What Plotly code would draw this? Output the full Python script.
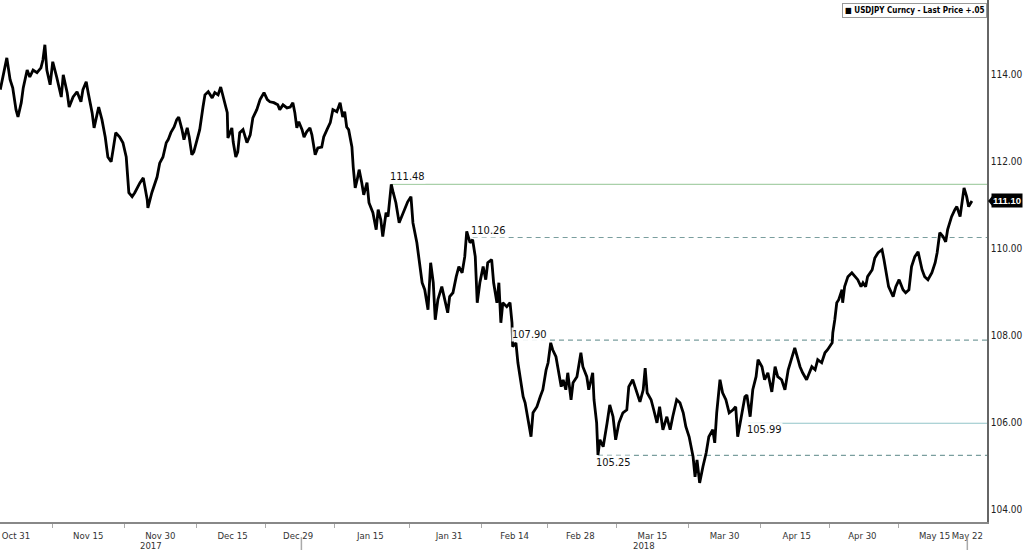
import numpy as np
import plotly.graph_objects as go

# ---------------- data ----------------
# x: trading-day index counted from 2017-10-31 (weekends skipped), y: USDJPY last price
day = [-2.4, -1.7, -1.4, -0.9, -0.5, 0.0, 0.3, 0.8, 1.1, 1.7,
       2.1, 2.6, 3.2, 3.8, 4.1, 4.4, 4.7, 5.2, 5.6, 6.2,
       6.9, 7.2, 7.8, 8.1, 8.7, 9.3, 9.9, 10.2, 10.7, 11.0,
       11.6, 11.9, 12.3, 12.6, 13.1, 13.6, 14.0, 14.5, 14.8, 15.2,
       15.8, 16.3, 16.8, 17.2, 17.7, 18.1, 18.9, 19.4, 20.0, 20.1,
       20.7, 21.2, 21.5, 21.9, 22.4, 22.9, 23.2, 23.6, 24.1, 24.5,
       24.8, 25.3, 25.6, 26.1, 26.4, 26.8, 27.1, 27.6, 28.0, 28.5,
       28.8, 29.3, 29.9, 30.3, 30.8, 31.2, 31.7, 32.2, 32.3, 32.9,
       33.1, 33.5, 33.8, 34.1, 34.6, 35.2, 35.7, 36.1, 36.7, 37.2,
       37.8, 38.3, 38.7, 39.3, 39.9, 40.2, 40.7, 41.3, 41.8, 42.2,
       42.5, 42.8, 43.1, 43.6, 43.9, 44.3, 44.8, 45.1, 45.6, 46.0,
       46.6, 46.9, 47.4, 47.9, 48.3, 48.9, 49.4, 49.8, 50.1, 50.4,
       50.7, 51.2, 51.4, 51.7, 52.0, 52.3, 52.7, 53.0, 53.5, 53.8,
       54.4, 54.9, 55.2, 55.6, 55.9, 56.4, 56.7, 57.2, 57.5, 57.9,
       58.4, 59.0, 59.7, 60.2, 60.5, 61.1, 61.4, 61.9, 62.3, 62.8,
       63.2, 63.6, 63.9, 64.3, 64.9, 65.4, 65.8, 66.1, 66.6, 67.1,
       67.5, 68.0, 68.4, 68.7, 69.2, 69.6, 70.0, 70.3, 70.7, 71.2,
       71.6, 71.9, 72.5, 72.8, 73.3, 73.6, 73.9, 74.2, 74.8, 75.3,
       75.6, 75.7, 76.2, 76.5, 76.8, 77.3, 77.6, 78.0, 78.5, 78.8,
       79.4, 79.9, 80.3, 80.8, 81.1, 81.5, 81.8, 82.3, 82.6, 83.1,
       83.4, 83.8, 84.1, 84.6, 84.9, 85.5, 86.1, 86.4, 87.0, 87.3,
       87.9, 88.1, 88.5, 88.7, 89.0, 89.5, 90.1, 90.5, 91.0, 91.4,
       91.9, 92.5, 93.1, 93.4, 94.0, 94.5, 95.1, 95.6, 95.9, 96.2,
       96.8, 97.2, 97.7, 98.1, 98.6, 99.2, 99.7, 100.1, 100.7, 101.2,
       101.7, 102.1, 102.6, 103.2, 103.5, 103.8, 104.2, 104.7, 105.2, 105.6,
       106.2, 106.5, 106.8, 107.3, 107.7, 108.2, 108.7, 109.3, 109.7, 110.0,
       110.6, 111.1, 111.4, 111.9, 112.3, 112.8, 113.1, 113.7, 114.1, 114.6,
       115.2, 115.7, 116.1, 116.7, 117.2, 117.7, 118.3, 118.7, 119.2, 119.5,
       119.9, 120.5, 121.3, 121.8, 122.2, 122.8, 123.3, 123.7, 124.4, 124.5,
       124.8, 125.1, 125.4, 125.9, 126.0, 126.3, 126.8, 127.4, 127.9, 128.3,
       128.8, 129.1, 129.5, 129.8, 130.5, 130.9, 131.4, 132.0, 132.3, 132.7,
       133.0, 133.7, 134.1, 134.6, 135.2, 135.6, 136.1, 136.5, 137.0, 137.5,
       138.1, 138.5, 139.0, 139.6, 140.1, 140.4, 140.8, 141.3, 141.7, 142.0,
       142.6, 143.1, 143.4, 143.9, 144.3, 144.5, 144.9, 145.2, 145.7]

price = [113.66, 114.18, 114.39, 113.89, 113.70, 113.20, 113.03, 113.36, 113.70, 114.11,
         113.95, 114.11, 114.05, 114.16, 114.34, 114.69, 114.11, 113.77, 114.30, 113.95,
         113.49, 114.00, 113.59, 113.26, 113.49, 113.61, 113.38, 113.66, 113.84, 113.59,
         113.13, 112.78, 113.03, 113.26, 112.97, 112.57, 112.11, 112.00, 112.28, 112.67,
         112.57, 112.44, 112.11, 111.29, 111.20, 111.29, 111.52, 111.63, 111.13, 110.94,
         111.29, 111.52, 111.65, 111.97, 112.11, 112.44, 112.51, 112.67, 112.80, 112.97,
         113.03, 112.74, 112.51, 112.78, 112.57, 112.16, 112.23, 112.51, 112.74, 113.26,
         113.54, 113.61, 113.47, 113.59, 113.54, 113.72, 113.43, 113.13, 112.55, 112.78,
         112.46, 112.11, 112.23, 112.67, 112.74, 112.44, 112.62, 113.01, 113.20, 113.43,
         113.59, 113.43, 113.38, 113.36, 113.31, 113.20, 113.31, 113.24, 113.26, 113.36,
         113.13, 112.78, 112.92, 112.74, 112.57, 112.69, 112.78, 112.62, 112.16, 112.32,
         112.34, 112.57, 112.74, 112.90, 113.20, 113.15, 113.36, 113.03, 113.15, 112.80,
         112.74, 112.34, 111.88, 111.40, 111.59, 111.82, 111.52, 111.24, 111.52, 111.06,
         110.83, 110.44, 110.90, 110.67, 110.28, 110.83, 110.74, 111.48, 111.29, 111.06,
         110.60, 110.83, 111.08, 111.20, 110.60, 110.14, 109.75, 109.22, 109.06, 108.60,
         109.68, 109.22, 108.37, 108.83, 109.13, 108.76, 108.53, 108.90, 108.99, 109.36,
         109.59, 109.45, 109.82, 110.40, 110.14, 110.21, 109.82, 108.76, 109.22, 109.59,
         109.29, 109.68, 109.75, 109.22, 108.76, 109.22, 108.30, 108.76, 108.67, 108.76,
         108.30, 107.75, 107.84, 107.38, 107.06, 106.60, 106.46, 106.14, 105.68, 106.23,
         106.37, 106.60, 106.76, 107.22, 107.38, 107.84, 107.68, 107.52, 107.22, 106.83,
         106.99, 106.76, 107.15, 106.53, 106.92, 107.06, 107.61, 107.29, 107.06, 106.76,
         107.15, 106.53, 106.00, 105.26, 105.61, 105.45, 106.00, 106.41, 106.14, 105.61,
         106.00, 106.23, 106.30, 106.83, 106.99, 106.76, 106.48, 106.76, 107.26, 106.69,
         106.53, 106.30, 106.00, 106.37, 105.84, 106.14, 105.84, 106.14, 106.53, 106.46,
         106.23, 105.91, 105.68, 105.22, 104.76, 105.15, 104.62, 104.99, 105.31, 105.68,
         105.84, 105.54, 106.23, 106.99, 106.69, 106.53, 106.23, 106.30, 106.37, 105.68,
         106.14, 106.60, 106.64, 106.14, 106.76, 107.06, 107.45, 107.29, 106.99, 107.15,
         106.71, 107.29, 107.06, 106.99, 106.76, 107.22, 107.52, 107.72, 107.45, 107.29,
         107.15, 106.99, 107.29, 107.22, 107.45, 107.38, 107.61, 107.68, 107.84, 108.07,
         108.37, 108.76, 108.83, 109.06, 108.76, 109.13, 109.36, 109.45, 109.36, 109.29,
         109.13, 109.22, 109.13, 109.36, 109.52, 109.79, 109.91, 109.98, 109.75, 109.36,
         109.13, 108.90, 109.13, 109.29, 109.06, 108.99, 109.06, 109.59, 109.82, 109.93,
         109.52, 109.36, 109.29, 109.45, 109.68, 109.91, 110.37, 110.28, 110.16, 110.44,
         110.74, 110.90, 110.97, 110.74, 111.13, 111.40, 111.20, 110.97, 111.10]

last_price = 111.10

# x-axis date labels
base_date = "2017-10-31"
tick_dates = ["2017-10-31", "2017-11-15", "2017-11-30", "2017-12-15", "2017-12-29",
              "2018-01-15", "2018-01-31", "2018-02-14", "2018-02-28", "2018-03-15",
              "2018-03-30", "2018-04-15", "2018-04-30", "2018-05-15", "2018-05-22"]
tick_labels = ["Oct 31", "Nov 15", "Nov 30", "Dec 15", "Dec 29", "Jan 15", "Jan 31",
               "Feb 14", "Feb 28", "Mar 15", "Mar 30", "Apr 15", "Apr 30", "May 15", "May 22"]
year_start = "2018-01-01"
years = ["2017", "2018"]

# y-axis ticks
y_ticks = [104, 106, 108, 110, 112, 114]

# horizontal levels: value, starting trading day, style, label placement
levels = [111.48, 110.26, 107.90, 105.99, 105.25]
level_start = [57.2, 69.6, 75.9, 111.6, 88.7]
level_dash = ["solid", "5px,4px", "5px,4px", "solid", "5px,4px"]
level_color = ["#a9d0a9", "#7a9e9e", "#7a9e9e", "#92c4c8", "#7a9e9e"]
level_shift = [8, 7, 6, -6, -7]

# ---------------- derived positions ----------------
tick_pos = [float(np.busday_count(base_date, d)) for d in tick_dates]
minor_pos = [(a + b) / 2 for a, b in zip(tick_pos[:-2], tick_pos[1:-1])]
year_boundary = float(np.busday_count(base_date, year_start)) - 0.5
x_min, x_max = -2.44, 148.0
y_min, y_max = 103.72, 115.72

fig = go.Figure()
fig.add_trace(go.Scatter(
    x=day, y=price, mode="lines",
    line=dict(color="#000000", width=2.8),
    name="USDJPY Curncy - Last Price +.05",
    showlegend=False, hoverinfo="skip"))

shapes = []
annotations = []
for v, s, dsh, col, sh in zip(levels, level_start, level_dash, level_color, level_shift):
    shapes.append(dict(type="line", xref="x", yref="y", x0=s, x1=x_max, y0=v, y1=v,
                       line=dict(color=col, width=1.2, dash=dsh), layer="below"))
    annotations.append(dict(x=s - 0.4, y=v, xref="x", yref="y", text=f"{v:.2f}",
                            showarrow=False, xanchor="left", yanchor="middle", yshift=sh,
                            font=dict(family="DejaVu Sans Condensed", size=11, color="#111"),
                            bgcolor="rgba(255,255,255,0.9)", borderpad=0))

# year separators under the axis
for xv in [year_boundary, tick_pos[-1]]:
    shapes.append(dict(type="line", xref="x", yref="paper", x0=xv, x1=xv, y0=-0.029, y1=-0.055,
                       line=dict(color="#aaaaaa", width=1.5)))

# year labels centered in each year's span
year_centers = [(x_min + year_boundary) / 2, (year_boundary + x_max) / 2]
for yl, xc in zip(years, year_centers):
    annotations.append(dict(x=xc, y=0, xref="x", yref="paper", text=yl, showarrow=False,
                            xanchor="center", yanchor="middle", yshift=-23,
                            font=dict(family="DejaVu Sans Condensed", size=9.5, color="#333")))

# last price tag
annotations.append(dict(x=1, y=last_price, xref="paper", yref="y", text=f"<b>{last_price:.2f}</b>",
                        showarrow=False, xanchor="left", yanchor="middle", xshift=4,
                        font=dict(family="Liberation Sans", size=9.5, color="#ffffff"),
                        bgcolor="#000000", borderpad=1))
shapes.append(dict(type="path", xref="paper", yref="y", xsizemode="pixel", ysizemode="pixel",
                   xanchor=1, yanchor=last_price, path="M1,0 L6,-6 L6,6 Z",
                   fillcolor="#000000", line=dict(width=0)))

# legend box
annotations.append(dict(x=1, y=1, xref="paper", yref="paper",
                        text="<b>\u25A0 USDJPY Curncy - Last Price +.05</b>",
                        showarrow=False, xanchor="right", yanchor="top", yshift=-3,
                        font=dict(family="Liberation Sans Narrow, DejaVu Sans Condensed", size=8, color="#000"),
                        bgcolor="#ffffff", bordercolor="#999999", borderwidth=1, borderpad=2))

fig.update_layout(
    width=1023, height=550,
    margin=dict(l=0, r=36, t=0, b=28),
    paper_bgcolor="#ffffff", plot_bgcolor="#ffffff",
    shapes=shapes, annotations=annotations,
    xaxis=dict(range=[x_min, x_max], tickmode="array", tickvals=tick_pos, ticktext=tick_labels,
               tickangle=0, showgrid=False, zeroline=False, showline=True, linecolor="#888888",
               linewidth=1.5, ticks="outside", ticklen=4, tickcolor="rgba(0,0,0,0)",
               tickfont=dict(family="DejaVu Sans Condensed", size=9.5, color="#333"),
               minor=dict(tickmode="array", tickvals=minor_pos, ticks="outside", ticklen=4,
                          tickcolor="#aaaaaa", showgrid=False)),
    yaxis=dict(range=[y_min, y_max], side="right", tickmode="array", tickvals=y_ticks,
               ticktext=[f"{t:.2f}" for t in y_ticks], showgrid=False, zeroline=False,
               showline=True, linecolor="#666666", linewidth=1.5, ticks="",
               tickfont=dict(family="DejaVu Sans Condensed", size=10, color="#222")),
)

fig.write_html("out.html", config={"displayModeBar": False},
               post_script="document.body.style.margin='0';document.body.style.overflow='hidden';")
